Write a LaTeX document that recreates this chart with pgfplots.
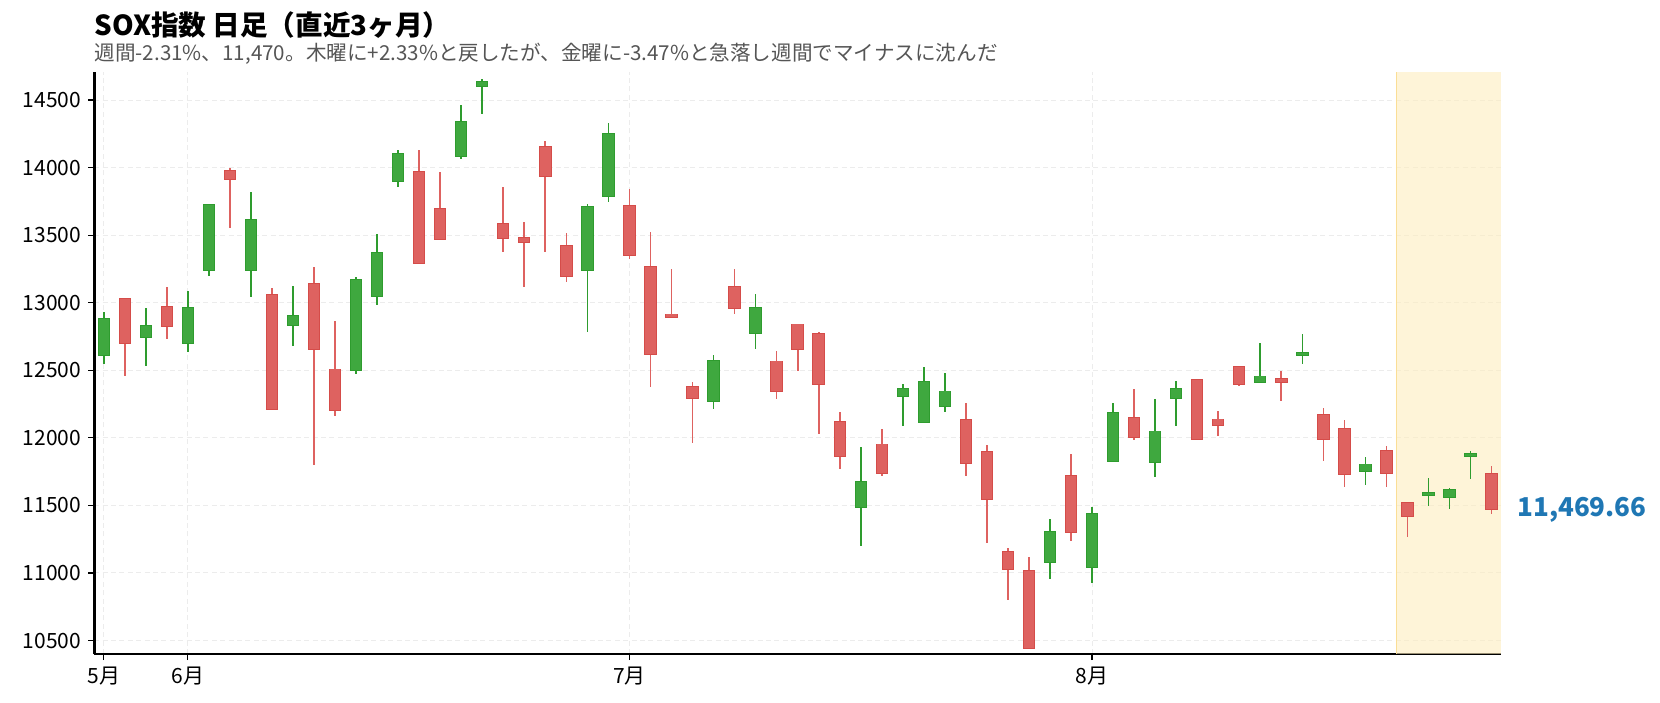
\documentclass[border=0pt]{standalone}
\usepackage{fontspec}
\setmainfont{Noto Sans CJK JP}
\usepackage{pgfplots}
\pgfplotsset{compat=1.18}
\usepackage{pgfplotstable}

\definecolor{upfill}{RGB}{63,168,63}
\definecolor{upedge}{RGB}{46,156,46}
\definecolor{dnfill}{RGB}{222,98,96}
\definecolor{dnedge}{RGB}{213,76,73}
\definecolor{gridgray}{RGB}{236,236,236}
\definecolor{hlfill}{RGB}{253,236,190}
\definecolor{hledge}{RGB}{250,222,150}
\definecolor{pricecol}{RGB}{31,119,180}
\definecolor{subgray}{RGB}{85,85,85}

% daily candles, i = trading day index (0 = late May)
\pgfplotstableread{
i  O      H      L      C
0  12612  12930  12548  12878
2  12745  12959  12528  12831
4  12701  13085  12632  12964
5  13240  13730  13201  13726
7  13240  13817  13046  13615
9  12834  13122  12676  12905
12 12501  13189  12476  13171
13 13048  13507  12986  13371
14 13901  14128  13859  14103
17 14083  14461  14066  14340
18 14601  14653  14399  14636
23 13240  13728  12787  13711
24 13788  14327  13748  14251
29 12272  12612  12217  12572
31 12774  13063  12654  12964
36 11490  11935  11200  11670
38 12309  12400  12084  12361
39 12116  12523  12116  12410
40 12235  12479  12188  12343
45 11081  11399  10958  11301
47 11044  11488  10923  11434
48 11828  12257  11828  12181
50 11821  12289  11707  12047
51 12294  12422  12084  12360
55 12412  12701  12405  12454
57 12612  12770  12550  12627
60 11756  11857  11648  11803
63 11579  11704  11492  11591
64 11564  11630  11470  11612
65 11867  11904  11692  11882
}\upcandles

\pgfplotstableread{
i  O      H      L      C
1  13031  13031  12454  12701
3  12972  13115  12735  12826
6  13973  13995  13556  13913
8  13060  13107  12215  12215
10 13142  13263  11800  12656
11 12506  12863  12158  12208
15 13970  14128  13292  13292
16 13696  13965  13470  13470
19 13585  13854  13378  13477
20 13482  13595  13120  13452
21 14155  14194  13378  13936
22 13423  13514  13157  13198
25 13719  13839  13327  13351
26 13267  13521  12373  12619
27 12913  13248  12893  12893
28 12375  12412  11959  12294
30 13120  13248  12913  12959
32 12565  12641  12291  12346
33 12839  12839  12491  12659
34 12772  12782  12025  12397
35 12114  12190  11766  11865
37 11951  12067  11715  11739
41 12129  12257  11715  11816
42 11892  11946  11222  11547
43 11153  11185  10798  11029
44 11012  11118  10445  10445
46 11715  11880  11234  11303
49 12146  12360  11981  12006
52 12427  12427  11991  11991
53 12136  12198  12010  12094
54 12521  12533  12385  12397
56 12439  12496  12269  12415
58 12166  12222  11826  11991
59 12064  12131  11633  11731
61 11902  11941  11633  11741
62 11515  11515  11263  11421
66 11731  11793  11433  11469.66
}\dncandles

\begin{document}
\begin{tikzpicture}
\begin{axis}[
    scale only axis,
    width=703.7pt, height=291.3pt,
    xmin=-0.45, xmax=66.45,
    ymin=10400, ymax=14710,
    axis x line*=bottom, axis y line*=left,
    axis line style={line width=1.3pt, black},
    xtick={0,4,25,47},
    xticklabels={5月,6月,7月,8月},
    ytick={10500,11000,...,14500},
    scaled y ticks=false,
    tick align=outside,
    major tick length=3pt,
    tick style={black, line width=0.6pt},
    grid=major,
    grid style={color=gridgray, line width=0.5pt, dash pattern=on 2.5pt off 1.7pt},
    tick label style={font=\fontsize{10.5}{12}\selectfont},
    /pgf/number format/assume math mode=true,
    yticklabel style={/pgf/number format/1000 sep={}},
]

% highlighted last week
\addplot[forget plot, draw=none, fill=hlfill, fill opacity=0.6]
    coordinates {(61.5,10400) (66.45,10400) (66.45,14710) (61.5,14710)} -- cycle;
\addplot[forget plot, hledge, line width=0.5pt] coordinates {(61.5,10400) (61.5,14710)};

% wicks
\addplot[forget plot, draw=none, mark=none,
    error bars/.cd, y dir=both, y explicit, error mark=none,
    error bar style={draw=upedge, line width=0.85pt}]
    table[x=i, y=O, y error plus expr={\thisrow{H}-\thisrow{O}}, y error minus expr={\thisrow{O}-\thisrow{L}}] {\upcandles};
\addplot[forget plot, draw=none, mark=none,
    error bars/.cd, y dir=both, y explicit, error mark=none,
    error bar style={draw=dnfill, line width=0.85pt}]
    table[x=i, y=C, y error plus expr={\thisrow{H}-\thisrow{C}}, y error minus expr={\thisrow{C}-\thisrow{L}}] {\dncandles};

% bodies: edge, then fill
\addplot[forget plot, draw=none, mark=none,
    error bars/.cd, y dir=both, y explicit, error mark=none,
    error bar style={draw=upedge, line width=6.2pt}]
    table[x=i, y=O, y error plus expr={\thisrow{C}-\thisrow{O}+7}, y error minus expr={7}] {\upcandles};
\addplot[forget plot, draw=none, mark=none,
    error bars/.cd, y dir=both, y explicit, error mark=none,
    error bar style={draw=upfill, line width=5.2pt}]
    table[x=i, y=O, y error plus expr={\thisrow{C}-\thisrow{O}}, y error minus expr={0}] {\upcandles};
\addplot[forget plot, draw=none, mark=none,
    error bars/.cd, y dir=both, y explicit, error mark=none,
    error bar style={draw=dnedge, line width=6.2pt}]
    table[x=i, y=C, y error plus expr={\thisrow{O}-\thisrow{C}+7}, y error minus expr={7}] {\dncandles};
\addplot[forget plot, draw=none, mark=none,
    error bars/.cd, y dir=both, y explicit, error mark=none,
    error bar style={draw=dnfill, line width=5.2pt}]
    table[x=i, y=C, y error plus expr={\thisrow{O}-\thisrow{C}}, y error minus expr={0}] {\dncandles};

\coordinate (lastclose) at (axis cs:66.45,11469.66);
\end{axis}

\node[anchor=west, inner sep=0pt, text=pricecol, font=\bfseries\fontsize{13}{15}\selectfont]
    at ([xshift=8pt]lastclose) {11,469.66};
\node[anchor=base west, inner sep=0pt, font=\bfseries\fontsize{13.8}{16}\selectfont]
    at ([shift={(0pt,18.3pt)}]current axis.north west) {SOX指数 日足（直近3ヶ月）};
\node[anchor=base west, inner sep=0pt, text=subgray, font=\fontsize{10.3}{12}\selectfont]
    at ([shift={(0pt,5.6pt)}]current axis.north west)
    {週間-2.31\%、11,470。木曜に+2.33\%と戻したが、金曜に-3.47\%と急落し週間でマイナスに沈んだ};

\path ([shift={(-47.15pt,-24.35pt)}]current axis.south west) rectangle ([shift={(79.5pt,35.85pt)}]current axis.north east);
\end{tikzpicture}
\end{document}
